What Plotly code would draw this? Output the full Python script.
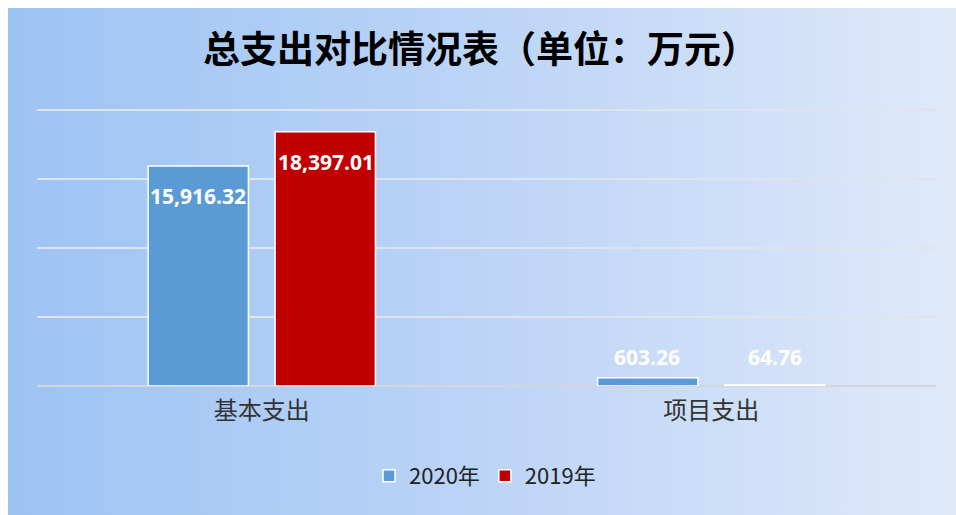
import base64
import plotly.graph_objects as go

categories = ["基本支出", "项目支出"]
series_names = ["2020年", "2019年"]
values_2020 = [15916.32, 603.26]
values_2019 = [18397.01, 64.76]
labels_2020 = ["15,916.32", "603.26"]
labels_2019 = ["18,397.01", "64.76"]

OFF = 8  # page body margin in the viewer
W, H = 956 - OFF, 515 - OFF
COL_2020 = "#5b9bd5"
COL_2019 = "#c00000"

svg = (
    '<svg xmlns="http://www.w3.org/2000/svg" width="948" height="507" preserveAspectRatio="none">'
    '<defs><linearGradient id="g" x1="0" y1="0" x2="1" y2="0">'
    '<stop offset="0" stop-color="#9dc3f4"/>'
    '<stop offset="0.5" stop-color="#bcd4f6"/>'
    '<stop offset="1" stop-color="#dfe9fa"/>'
    '</linearGradient></defs>'
    '<rect x="0" y="0" width="948" height="507" fill="url(#g)"/></svg>'
)
src = "data:image/svg+xml;base64," + base64.b64encode(svg.encode()).decode()

fig = go.Figure()
fig.add_trace(go.Bar(
    name=series_names[0], x=categories, y=values_2020,
    marker=dict(color=COL_2020, line=dict(color="white", width=1.5)),
))
fig.add_trace(go.Bar(
    name=series_names[1], x=categories, y=values_2019,
    marker=dict(color=COL_2019, line=dict(color="white", width=1.5)),
))

label_font = dict(family="Open Sans", size=21, color="white")
shifts_2020 = [-30, 21]
shifts_2019 = [-30, 28]
for i, cat in enumerate(categories):
    fig.add_annotation(x=cat, y=values_2020[i], xref="x", yref="y",
                       text="<b>%s</b>" % labels_2020[i], showarrow=False,
                       xshift=-64, yshift=shifts_2020[i], font=label_font,
                       yanchor="middle")
    fig.add_annotation(x=cat, y=values_2019[i], xref="x", yref="y",
                       text="<b>%s</b>" % labels_2019[i], showarrow=False,
                       xshift=64, yshift=shifts_2019[i], font=label_font,
                       yanchor="middle")

fig.add_annotation(
    x=(480 - OFF) / W, y=1 - (47 - OFF) / H, xref="paper", yref="paper",
    text="<b>总支出对比情况表（单位：万元）</b>", showarrow=False,
    font=dict(family="Noto Sans CJK SC", size=37, color="black"),
    xanchor="center", yanchor="middle",
)

fig.add_layout_image(dict(
    source=src, xref="paper", yref="paper",
    x=0, y=1, sizex=1, sizey=1,
    xanchor="left", yanchor="top", sizing="stretch", layer="below",
))

fig.update_layout(
    width=W, height=H,
    margin=dict(l=0, r=0, t=0, b=0),
    paper_bgcolor="white",
    plot_bgcolor="rgba(0,0,0,0)",
    barmode="group",
    bargap=0.435,
    bargroupgap=0.21,
    showlegend=True,
    legend=dict(
        orientation="h", x=(485 - OFF) / W, xanchor="center",
        y=1 - (476 - OFF) / H, yanchor="middle",
        font=dict(family="Noto Sans CJK SC", size=22, color="#222"),
        bgcolor="rgba(0,0,0,0)",
    ),
    xaxis=dict(
        domain=[(37 - OFF) / W, (936 - OFF) / W],
        showgrid=False, showline=False, zeroline=False,
        tickfont=dict(family="Noto Sans CJK SC", size=24, color="#333"),
        ticks="", ticklabelstandoff=8,
    ),
    yaxis=dict(
        domain=[(H - (386 - OFF)) / H, (H - (104 - OFF)) / H],
        range=[0, 20400], tickvals=[0, 5000, 10000, 15000, 20000],
        showgrid=True, gridcolor="#dfe3ea", gridwidth=1.5,
        zeroline=True, zerolinecolor="#d4d6da", zerolinewidth=2,
        showticklabels=False, showline=False,
    ),
)

# page background continues the gradient to the window edges
page_bg = (
    "document.body.style.background="
    "'linear-gradient(to bottom, white 8px, transparent 8px),"
    " linear-gradient(to right, white 8px, #9dc3f4 8px, #bcd4f6 482px, #dfe9fa 956px)';"
    "document.body.style.minHeight='515px';"
)
fig.write_html("out.html", post_script=page_bg)
